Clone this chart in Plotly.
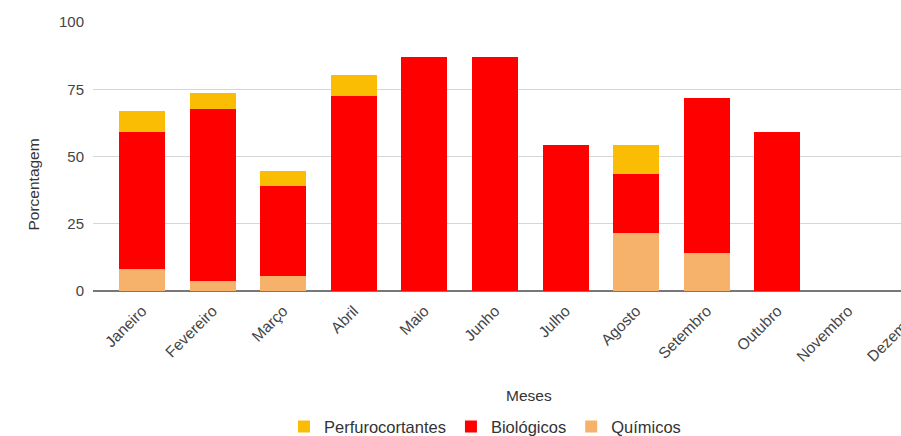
import plotly.graph_objects as go

# Monthly share of waste by type (%)
meses = ["Janeiro", "Fevereiro", "Março", "Abril", "Maio", "Junho", "Julho",
         "Agosto", "Setembro", "Outubro", "Novembro", "Dezembro"]
quimicos = [8.0, 3.7, 5.6, 0, 0, 0, 0, 21.4, 14.2, 0, 0, 0]
biologicos = [51.0, 63.8, 33.5, 72.5, 87.1, 87.1, 54.3, 22.0, 57.4, 59.0, 0, 0]
perfurocortantes = [8.0, 6.0, 5.5, 7.8, 0, 0, 0, 10.9, 0, 0, 0, 0]

cor_quimicos = "#F6B26B"
cor_biologicos = "#FF0000"
cor_perfuro = "#FBBC04"

FONT = "Liberation Sans, Arial, sans-serif"

fig = go.Figure()
fig.add_trace(go.Bar(name="Químicos", x=meses, y=quimicos,
                     marker=dict(color=cor_quimicos, line=dict(width=0))))
fig.add_trace(go.Bar(name="Biológicos", x=meses, y=biologicos,
                     marker=dict(color=cor_biologicos, line=dict(width=0))))
fig.add_trace(go.Bar(name="Perfurocortantes", x=meses, y=perfurocortantes,
                     marker=dict(color=cor_perfuro, line=dict(width=0))))

fig.update_layout(
    width=970, height=436,
    margin=dict(l=93, r=5, t=22, b=145, autoexpand=False),
    barmode="stack", bargap=0.35,
    plot_bgcolor="white", paper_bgcolor="white",
    font=dict(family=FONT, size=15, color="#444"),
    showlegend=True,
    legend=dict(orientation="h", traceorder="reversed",
                x=0.219, xanchor="left", y=-0.505, yanchor="middle",
                font=dict(family=FONT, size=16.5, color="#333"),
                itemwidth=30),
    xaxis=dict(range=[-0.694, 11.657], tickangle=-45, showgrid=False,
               ticks="", tickfont=dict(size=15.5, color="#444"),
               ticklabelshift=0, ticklabelstandoff=7,
               showline=False, zeroline=False),
    yaxis=dict(range=[0, 100], tickvals=[0, 25, 50, 75, 100],
               showgrid=True, gridcolor="#d6d6d6", gridwidth=1,
               zeroline=True, zerolinecolor="#777777", zerolinewidth=1.5,
               tickfont=dict(size=15, color="#444"), ticks="",
               ticklabelstandoff=8),
    annotations=[
        dict(text="Meses", xref="paper", yref="paper", x=0.5, y=-0.390,
             yanchor="middle", showarrow=False,
             font=dict(family=FONT, size=15.5, color="#333")),
        dict(text="Porcentagem", xref="paper", yref="paper", x=-0.0814, y=0.394,
             textangle=-90, showarrow=False,
             font=dict(family=FONT, size=15.5, color="#333")),
    ],
)

fig.write_html("out.html",
               post_script="document.body.style.overflow='hidden';"
                           "document.body.style.margin='0';")
